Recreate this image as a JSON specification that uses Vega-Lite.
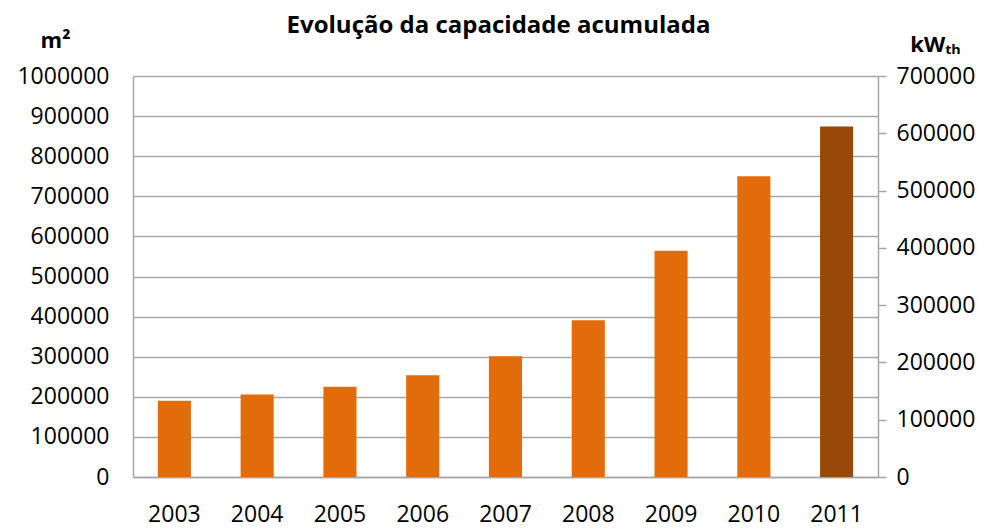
{
  "$schema": "https://vega.github.io/schema/vega-lite/v6.json",
  "width": 745,
  "height": 401,
  "autosize": {"type": "none"},
  "padding": {"left": 133, "top": 76, "right": 109, "bottom": 53},
  "background": "white",
  "title": {
    "text": "Evolução da capacidade acumulada",
    "font": "Open Sans",
    "fontSize": 24,
    "fontWeight": "bold",
    "color": "#000000",
    "anchor": "middle",
    "frame": "group",
    "dx": -7,
    "offset": 0,
    "dy": 9
  },
  "config": {
    "view": {"stroke": null},
    "axis": {"labelFont": "Open Sans", "titleFont": "Open Sans", "labelColor": "#000000", "titleColor": "#000000"}
  },
  "data": {
    "values": [
      {"year": "2003", "m2": 190000, "kw": 133000},
      {"year": "2004", "m2": 206000, "kw": 144200},
      {"year": "2005", "m2": 225000, "kw": 157500},
      {"year": "2006", "m2": 254000, "kw": 177800},
      {"year": "2007", "m2": 301000, "kw": 210700},
      {"year": "2008", "m2": 391000, "kw": 273700},
      {"year": "2009", "m2": 564000, "kw": 394800},
      {"year": "2010", "m2": 750000, "kw": 525000},
      {"year": "2011", "m2": 874000, "kw": 611800}
    ]
  },
  "encoding": {
    "x": {
      "field": "year",
      "type": "ordinal",
      "scale": {"paddingInner": 0.6, "paddingOuter": 0.3},
      "axis": {
        "title": null,
        "labelAngle": 0,
        "labelFontSize": 23,
        "labelPadding": 26,
        "ticks": false,
        "domainColor": "#a6a6a6",
        "domainWidth": 1.5
      }
    }
  },
  "layer": [
    {
      "mark": {"type": "bar"},
      "encoding": {
        "y": {
          "field": "m2",
          "type": "quantitative",
          "scale": {"domain": [0, 1000000], "nice": false},
          "axis": {
            "title": "m²",
            "titleAngle": 0,
            "titleFontSize": 22,
            "titleFontWeight": "bold",
            "titleAlign": "center",
            "titleBaseline": "middle",
            "titleX": -78,
            "titleY": -36,
            "values": [0, 100000, 200000, 300000, 400000, 500000, 600000, 700000, 800000, 900000, 1000000],
            "format": "d",
            "labelFontSize": 23,
            "labelPadding": 24,
            "ticks": false,
            "grid": true,
            "gridColor": "#a6a6a6",
            "gridWidth": 1.5,
            "domainColor": "#a6a6a6",
            "domainWidth": 1.5
          }
        },
        "color": {
          "condition": {"test": "datum.year == '2011'", "value": "#984807"},
          "value": "#E36C0A"
        }
      }
    },
    {
      "mark": {"type": "bar", "opacity": 0},
      "encoding": {
        "y": {
          "field": "kw",
          "type": "quantitative",
          "scale": {"domain": [0, 700000], "nice": false},
          "axis": {
            "orient": "right",
            "title": "kWₜₕ",
            "titleAngle": 0,
            "titleFontSize": 22,
            "titleFontWeight": "bold",
            "titleAlign": "center",
            "titleBaseline": "middle",
            "titleX": 57,
            "titleY": -32,
            "values": [0, 100000, 200000, 300000, 400000, 500000, 600000, 700000],
            "format": "d",
            "labelFontSize": 23,
            "labelPadding": 10,
            "ticks": true,
            "tickSize": 8,
            "tickColor": "#a6a6a6",
            "tickWidth": 1.5,
            "grid": false,
            "domainColor": "#a6a6a6",
            "domainWidth": 1.5
          }
        }
      }
    }
  ],
  "resolve": {"scale": {"y": "independent"}}
}
